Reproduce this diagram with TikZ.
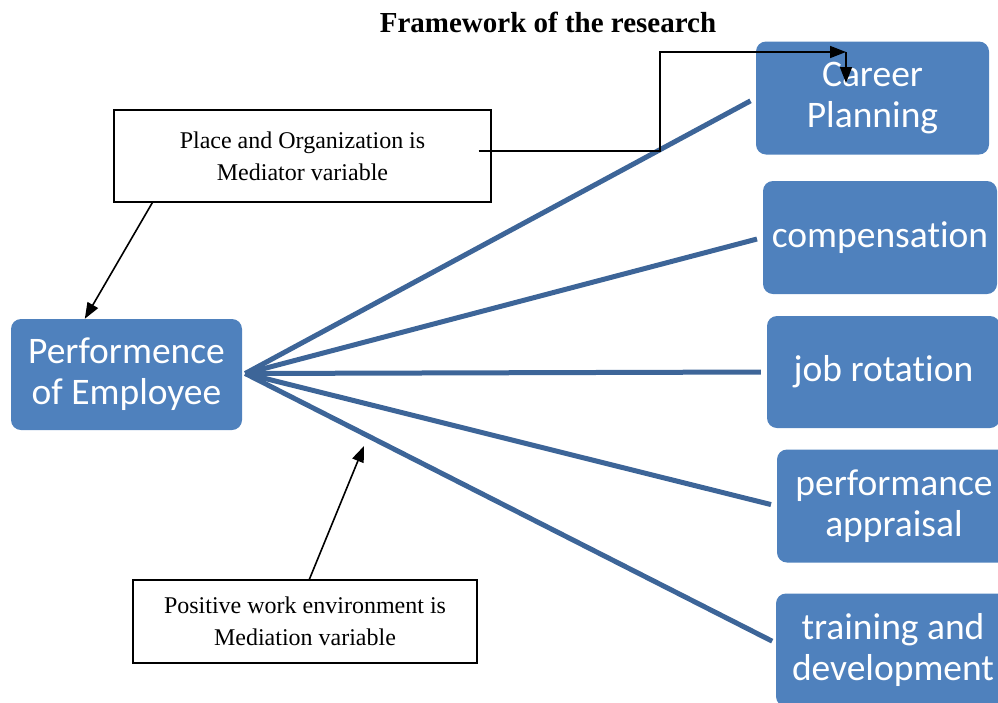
\documentclass[tikz,border=0pt]{standalone}
\usepackage{fontspec}
\setmainfont{Liberation Serif}
\newfontfamily\boxfont[Ligatures=NoCommon]{Carlito}
\usetikzlibrary{arrows.meta,calc}
\definecolor{boxblue}{HTML}{4F81BD}
\definecolor{spoke}{HTML}{3D6598}
\begin{document}
\begin{tikzpicture}[x=1pt,y=-1pt,
  bluebox/.style={draw=none,fill=boxblue,rounded corners=10pt,text=white,
    align=center,inner sep=0pt,font=\boxfont\fontsize{37.5}{41}\selectfont},
  notebox/.style={draw=black,line width=1.3pt,fill=white,align=center,
    inner sep=0pt,font=\fontsize{24}{32}\selectfont},
  spokeline/.style={draw=spoke,line width=5pt,shorten >=6pt},
  pointer/.style={draw=black,line width=1.6pt,
    -{Triangle[length=16pt,width=12pt]}}]
\useasboundingbox (0,0) rectangle (998,702);
\begin{scope}
\clip (0,0) rectangle (998,702);

% title
\node[font=\bfseries\fontsize{29}{34}\selectfont] (title) at (548,22) {Framework of the research};

% blue boxes
\node[bluebox,minimum width=231pt,minimum height=111pt] (perf) at (126.5,374.5) {Performence\\of Employee};
\node[bluebox,minimum width=233pt,minimum height=113pt] (career) at (872.5,98) {Career\\Planning};
\node[bluebox,minimum width=234pt,minimum height=113pt] (comp) at (880,237.5) {compensation};
\node[bluebox,minimum width=233pt,minimum height=112pt] (job) at (883.5,372) {job rotation};
\node[bluebox,minimum width=234pt,minimum height=113pt] (appr) at (894,506) {performance\\appraisal};
\node[bluebox,minimum width=234pt,minimum height=113pt] (train) at (893,650) {training and\\development};

% spokes from the central box
\coordinate (hub) at ($(perf.east)+(3,-1)$);
\draw[spokeline] (hub) -- (career.west);
\draw[spokeline] (hub) -- (comp.west);
\draw[spokeline] (hub) -- (job.west);
\draw[spokeline] (hub) -- (appr.west);
\draw[spokeline,shorten >=4pt] (hub) -- ($(train.west)+(0,-7)$);

% mediator notes
\node[notebox,minimum width=377pt,minimum height=92pt] (place) at (302.5,156) {Place and Organization is\\Mediator variable};
\node[notebox,minimum width=344pt,minimum height=83pt] (pos) at (305,621.5) {Positive work environment is\\Mediation variable};

% black pointers
\draw[pointer] ($(place.south west)+(39,0)$) -- ($(perf.north west)+(74,0)$);
\coordinate (medpt) at (364,446);
\draw[pointer] ($(pos.north west)+(177,0)$) -- (medpt);
\coordinate (elbow) at (660,52);
\coordinate (tipA) at (846,52);
\coordinate (tipB) at (846,83);
\draw[pointer] ($(place.east)+(-13,-5)$) -| (elbow) -- (tipA);
\draw[pointer] (tipA) -- (tipB);
\end{scope}
\end{tikzpicture}
\end{document}
